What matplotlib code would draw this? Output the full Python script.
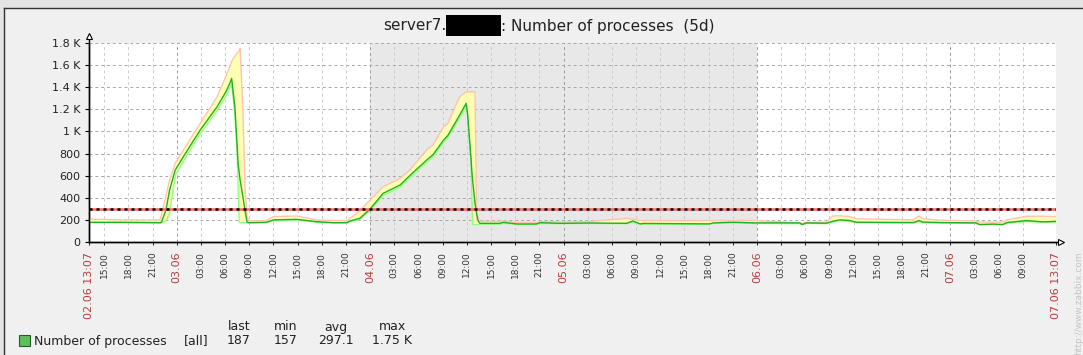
import numpy as np
import pandas as pd
import matplotlib
matplotlib.use("Agg")
import matplotlib.pyplot as plt
from matplotlib.patches import Rectangle
from matplotlib.lines import Line2D

# hours since 02.06 13:07
hours = [0, 4, 8.8, 9.0, 9.55, 10.0, 10.7, 11.7, 13.8, 15.9, 17.0, 17.5, 17.7,
         18.1, 18.4, 18.5, 18.65, 18.75, 19.1, 19.35, 19.6, 19.8, 22.0, 22.9,
         25.8, 28.2, 29.1, 30.3, 32.0, 32.4, 33.6, 34.9, 36.5, 38.6, 39.8, 41.9,
         42.7, 44.0, 44.5, 46.0, 46.8, 47.0, 47.1, 47.4, 47.5, 47.6, 47.9, 48.1,
         48.3, 48.5, 51.0, 51.4, 53.1, 55.5, 56.0, 58.4, 62.0, 66.7, 67.5, 68.4,
         68.8, 77.0, 77.5, 79.9, 82.4, 88.2, 88.5, 89.0, 91.5, 92.3, 93.2, 94.4,
         95.2, 102.3, 103.0, 103.5, 105.6, 110.1, 110.5, 112.2, 113.4, 113.9,
         116.3, 118.4, 120]
avg_vals = [178, 178, 175, 180, 290, 470, 651, 770, 1013, 1223, 1360, 1440, 1480,
            1223, 850, 711, 620, 560, 410, 290, 184, 175, 178, 200,
            205, 184, 180, 175, 175, 190, 214, 300, 440, 515, 600, 741,
            790, 922, 960, 1148, 1254, 1150, 1043, 760, 651, 560, 350, 259,
            190, 169, 169, 178, 163, 163, 175, 169, 172, 169, 190, 164,
            168, 164, 173, 179, 173, 173, 158, 173, 170, 188, 200, 195,
            179, 176, 194, 180, 176, 173, 158, 162, 158, 176,
            194, 182, 187]
min_vals = [175, 175, 172, 172, 190, 260, 600, 730, 980, 1190, 1320, 1400, 1430,
            1150, 771, 500, 175, 175, 175, 175, 175, 172, 175, 195,
            200, 180, 176, 172, 172, 185, 205, 285, 420, 495, 580, 720,
            770, 900, 940, 1120, 1230, 1130, 1000, 741, 450, 160, 157, 157,
            157, 160, 160, 170, 158, 158, 168, 165, 168, 165, 180, 160,
            162, 160, 168, 173, 168, 165, 157, 168, 165, 180, 195, 185,
            175, 172, 185, 175, 172, 168, 157, 157, 157, 170,
            185, 180, 180]
max_vals = [208, 200, 199, 250, 420, 560, 711, 830, 1073, 1314, 1500, 1590, 1630,
            1680, 1710, 1720, 1730, 1750, 1200, 500, 240, 193, 195, 230,
            235, 200, 197, 195, 193, 215, 280, 380, 500, 576, 651, 832,
            880, 1043, 1070, 1314, 1359, 1359, 1359, 1359, 1359, 1359, 1359, 199,
            190, 187, 187, 190, 175, 175, 185, 180, 185, 214, 205, 194,
            194, 194, 194, 194, 194, 175, 170, 178, 180, 236, 236, 230,
            210, 200, 236, 210, 197, 190, 179, 179, 180, 200,
            233, 233, 230]
trigger_value = 300

yticks = [0, 200, 400, 600, 800, 1000, 1200, 1400, 1600, 1800]
ytick_labels = ["0", "200", "400", "600", "800", "1 K", "1.2 K", "1.4 K", "1.6 K", "1.8 K"]

start = pd.Timestamp("2016-06-02 13:07")
end = pd.Timestamp("2016-06-07 13:07")
weekend = (pd.Timestamp("2016-06-04 00:00"), pd.Timestamp("2016-06-06 00:00"))

legend_cols = ["last", "min", "avg", "max"]
legend_vals = ["187", "157", "297.1", "1.75 K"]

W, H = 1083, 355
fig = plt.figure(figsize=(W / 100, H / 100), dpi=100)
fig.patch.set_facecolor("#f0f0f0")


def fx(px):
    return px / W


def fy(py):
    return 1 - py / H


# outer frame
fig.add_artist(Rectangle((0, fy(8)), 1, 8 / H, transform=fig.transFigure,
                         color="#e4e4e4", lw=0))
fig.add_artist(Rectangle((0, 0), fx(4), 1, transform=fig.transFigure,
                         color="#e4e4e4", lw=0))
fig.add_artist(Line2D([fx(4), 1], [fy(8), fy(8)], transform=fig.transFigure,
                      color="#333333", lw=1))
fig.add_artist(Line2D([fx(4), fx(4)], [0, fy(8)], transform=fig.transFigure,
                      color="#333333", lw=1))

left, right, top, bottom = 89, 1056, 43, 242
ax = fig.add_axes([fx(left), fy(bottom), fx(right - left), (bottom - top) / H])
ax.set_facecolor("white")

span_h = (end - start) / pd.Timedelta(hours=1)
ax.set_xlim(0, span_h)
ax.set_ylim(0, 1800)

w0 = (weekend[0] - start) / pd.Timedelta(hours=1)
w1 = (weekend[1] - start) / pd.Timedelta(hours=1)
ax.axvspan(w0, w1, color="#e8e8e8", lw=0, zorder=0)

# grid
ticks = pd.date_range("2016-06-02 15:00", "2016-06-07 09:00", freq="3h")
tick_h = [(t - start) / pd.Timedelta(hours=1) for t in ticks]
for t, h in zip(ticks, tick_h):
    is_day = t.hour == 0
    ax.axvline(h, color="#9a9a9a" if is_day else "#cccccc", lw=0.7,
               ls=(0, (3, 3)), zorder=1)
ax.axvline(span_h, color="#cccccc", lw=0.7, ls=(0, (3, 3)), zorder=1)
for v in yticks[1:]:
    ax.axhline(v, color="#a8a8a8", lw=0.7, ls=(0, (3, 3)), zorder=1)

# data
ax.fill_between(hours, min_vals, max_vals, color="#ffffb4", lw=0, zorder=2)
ax.plot(hours, max_vals, color="#ffc4b0", lw=1, zorder=3)
ax.plot(hours, min_vals, color="#90ff80", lw=1, zorder=3)
ax.plot(hours, avg_vals, color="#20b020", lw=1, zorder=4)

# trigger line
ax.axhline(trigger_value, color="#ff6464", lw=1.8, zorder=5)
ax.axhline(trigger_value, color="black", lw=1.8, ls=(0, (1.2, 1.6)), zorder=6)

for s in ["top", "right"]:
    ax.spines[s].set_visible(False)
ax.spines["left"].set_color("black")
ax.spines["bottom"].set_color("black")
ax.spines["left"].set_linewidth(1)
ax.spines["bottom"].set_linewidth(1)

ax.set_yticks(yticks)
ax.set_yticklabels(ytick_labels, fontsize=8, color="#222222")
ax.tick_params(axis="y", length=3, width=0.8, pad=3)

xt = [0] + tick_h + [span_h]
xl = [start.strftime("%d.%m %H:%M")]
xl += [t.strftime("%d.%m") if t.hour == 0 else t.strftime("%H:%M") for t in ticks]
xl += [end.strftime("%d.%m %H:%M")]
ax.set_xticks(xt)
ax.set_xticklabels(xl, rotation=90, va="top", ha="center")
ax.tick_params(axis="x", length=2, width=0.6, pad=5)
day_tick = [True] + [t.hour == 0 for t in ticks] + [True]
for lab, red in zip(ax.get_xticklabels(), day_tick):
    if red:
        lab.set_color("#b83c3c")
        lab.set_fontsize(8)
    else:
        lab.set_color("#333333")
        lab.set_fontsize(6.5)

# axis arrows
fig.add_artist(Line2D([fx(left), fx(left)], [fy(bottom), fy(37)],
                      transform=fig.transFigure, color="black", lw=1))
fig.add_artist(Line2D([fx(left)], [fy(36)], transform=fig.transFigure,
                      marker="^", ms=5, mfc="white", mec="black", mew=0.8))
fig.add_artist(Line2D([fx(left), fx(1060)], [fy(bottom), fy(bottom)],
                      transform=fig.transFigure, color="black", lw=1))
fig.add_artist(Line2D([fx(1061)], [fy(bottom)], transform=fig.transFigure,
                      marker=">", ms=5, mfc="white", mec="black", mew=0.8))

# title with masked host name
fig.text(fx(446), fy(26), "server7.", ha="right", va="center", fontsize=11,
         color="#222222")
fig.add_artist(Rectangle((fx(446), fy(36)), fx(55), 21 / H,
                         transform=fig.transFigure, color="black", lw=0))
fig.text(fx(501), fy(26), ": Number of processes  (5d)", ha="left", va="center",
         fontsize=11, color="#222222")

# legend
fig.add_artist(Rectangle((fx(19), fy(346)), fx(11), 11 / H,
                         transform=fig.transFigure, facecolor="#5cbf5c",
                         edgecolor="#2a5a2a", lw=0.8))
fig.text(fx(34), fy(341), "Number of processes", ha="left", va="center",
         fontsize=9, color="#222222")
fig.text(fx(196), fy(341), "[all]", ha="center", va="center", fontsize=9,
         color="#222222")
col_x = [239, 286, 336, 392]
for cx, head, val in zip(col_x, legend_cols, legend_vals):
    fig.text(fx(cx), fy(327), head, ha="center", va="center", fontsize=9,
             color="#222222")
    fig.text(fx(cx), fy(341), val, ha="center", va="center", fontsize=9,
             color="#222222")

fig.text(fx(1079), fy(355), "http://www.zabbix.com", rotation=90, ha="center",
         va="bottom", fontsize=6.5, color="#c4c4c4")

fig.savefig("out.png", dpi=100, facecolor=fig.get_facecolor())
